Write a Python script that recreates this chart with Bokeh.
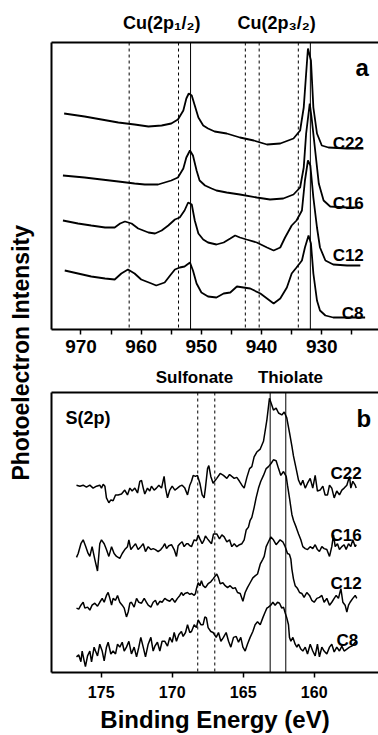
from bokeh.plotting import figure
from bokeh.models import Range1d, Span, Label, LinearAxis, FixedTicker, Div
from bokeh.layouts import row, column
from bokeh.embed import file_html
from bokeh.resources import INLINE

FONT = "Liberation Sans"

# ---------------- Panel a : Cu(2p) spectra (binding energy eV, intensity a.u.) ----------------
cu_c22 = [(972.8, 216), (969.4, 213), (966.6, 210), (963.8, 207), (961.1, 205), (958.8, 203),
          (956.6, 204), (955.0, 206), (953.9, 210), (953.0, 219), (952.5, 231), (952.1, 236),
          (951.6, 234), (951.1, 224), (950.5, 212), (949.7, 204), (948.9, 201), (947.8, 198),
          (945.8, 196), (943.6, 192), (941.3, 189), (939.1, 185), (936.9, 186), (934.7, 191),
          (933.6, 199), (933.0, 222), (932.6, 256), (932.3, 281), (931.8, 269), (931.4, 222),
          (930.8, 196), (930.0, 184), (928.9, 182), (925.8, 181), (923.1, 181)]
cu_c16 = [(973.0, 154), (969.4, 152), (966.6, 150), (963.8, 148), (961.1, 146), (959.4, 145),
          (957.2, 145), (955.0, 149), (953.9, 152), (953.0, 161), (952.5, 172), (951.9, 179),
          (951.4, 174), (950.8, 159), (950.3, 149), (949.4, 144), (948.3, 141), (947.5, 139),
          (945.8, 137), (943.6, 135), (940.8, 132), (938.6, 130), (936.4, 131), (934.7, 135),
          (933.6, 142), (933.0, 162), (932.6, 196), (932.0, 226), (931.7, 212), (931.1, 179),
          (930.5, 146), (929.7, 129), (928.6, 123), (925.8, 122), (923.6, 122)]
cu_c12 = [(973.0, 109), (970.5, 106), (968.3, 104), (966.0, 102), (964.4, 102), (963.5, 106),
          (962.7, 108), (961.6, 106), (960.5, 101), (958.8, 97), (957.7, 96), (956.6, 99),
          (955.5, 104), (954.4, 110), (953.6, 112), (952.8, 119), (952.2, 127), (951.6, 125),
          (951.1, 109), (950.5, 96), (949.7, 90), (948.9, 87), (947.5, 85), (946.3, 87),
          (945.2, 91), (944.4, 94), (943.6, 92), (942.5, 90), (940.8, 87), (939.1, 82),
          (938.0, 79), (936.9, 82), (936.1, 92), (935.0, 104), (934.2, 109), (933.3, 119),
          (932.8, 149), (932.3, 169), (931.9, 164), (931.4, 132), (930.8, 102), (930.3, 82),
          (929.4, 69), (928.1, 65), (925.8, 64), (923.6, 64)]
cu_c8 = [(972.7, 59), (970.5, 56), (968.3, 53), (966.0, 51), (964.4, 50), (963.3, 56),
         (962.2, 60), (961.1, 56), (960.0, 50), (958.3, 46), (957.5, 44), (956.1, 47),
         (955.2, 54), (954.4, 60), (953.6, 62), (952.8, 63), (951.9, 67), (951.4, 59),
         (950.8, 46), (950.0, 37), (948.9, 33), (947.5, 32), (946.3, 36), (945.2, 37),
         (944.1, 43), (943.0, 42), (941.9, 41), (940.2, 36), (939.1, 31), (938.0, 26),
         (936.9, 31), (935.8, 42), (935.0, 56), (934.2, 62), (933.3, 69), (932.8, 82),
         (932.2, 94), (931.8, 86), (931.4, 56), (930.8, 29), (930.3, 19), (929.4, 14),
         (928.1, 12), (925.8, 12), (922.8, 12)]

cu_dashed = [962.0, 953.8, 942.7, 940.4, 933.9]
cu_solid = [951.8, 931.9]
cu_ticks = [970, 960, 950, 940, 930]
cu_minor = [965, 955, 945, 935, 925]
cu_headers = {956.6: "Cu(2p\u2081/\u2082)", 937.5: "Cu(2p\u2083/\u2082)"}

# ---------------- Panel b : S(2p) spectra ----------------
s_c22 = [(176.74, 192), (176.50, 191), (176.27, 192), (176.04, 190), (175.80, 192), (175.57, 189),
         (175.33, 191), (175.10, 192), (174.98, 189), (174.86, 193), (174.74, 191), (174.63, 179),
         (174.46, 174), (174.32, 177), (174.16, 176), (173.99, 182), (173.81, 182), (173.57, 183),
         (173.34, 187), (173.15, 182), (172.98, 189), (172.82, 186), (172.63, 189), (172.44, 184),
         (172.28, 196), (172.16, 197), (172.04, 189), (171.93, 183), (171.74, 189), (171.58, 186),
         (171.46, 191), (171.27, 187), (171.11, 189), (170.94, 192), (170.75, 189), (170.57, 201),
         (170.47, 189), (170.33, 179), (170.17, 187), (170.00, 191), (169.81, 187), (169.63, 189),
         (169.46, 191), (169.30, 192), (169.11, 189), (168.92, 182), (168.76, 192), (168.64, 196),
         (168.52, 202), (168.36, 201), (168.22, 202), (168.05, 194), (167.89, 182), (167.75, 179),
         (167.66, 189), (167.51, 209), (167.42, 212), (167.28, 201), (167.12, 194), (166.86, 199),
         (166.62, 204), (166.39, 202), (166.15, 199), (165.96, 203), (165.80, 201), (165.63, 199),
         (165.45, 200), (165.26, 196), (165.09, 192), (164.93, 189), (164.74, 200), (164.55, 209),
         (164.39, 211), (164.23, 221), (164.04, 226), (163.80, 229), (163.57, 237), (163.33, 259),
         (163.15, 281), (162.98, 274), (162.87, 269), (162.68, 271), (162.51, 266), (162.28, 264),
         (162.11, 267), (161.93, 261), (161.74, 246), (161.57, 232), (161.46, 222), (161.27, 209),
         (161.10, 197), (160.94, 192), (160.80, 197), (160.63, 189), (160.47, 194), (160.28, 199),
         (160.10, 189), (159.93, 202), (159.77, 186), (159.58, 187), (159.39, 191), (159.23, 182),
         (159.06, 182), (158.92, 192), (158.76, 189), (158.59, 179), (158.41, 186), (158.22, 182),
         (158.05, 187), (157.89, 189), (157.70, 192), (157.51, 201), (157.42, 189), (157.28, 196),
         (157.11, 192), (157.04, 189)]
s_c16 = [(176.74, 118), (176.62, 122), (176.43, 132), (176.27, 136), (176.11, 130), (175.92, 122),
         (175.80, 119), (175.64, 129), (175.45, 116), (175.26, 104), (175.10, 132), (174.98, 136),
         (174.79, 132), (174.63, 126), (174.46, 119), (174.27, 129), (174.09, 122), (173.92, 119),
         (173.69, 117), (173.52, 122), (173.34, 126), (173.15, 129), (173.05, 136), (172.91, 126),
         (172.75, 129), (172.58, 132), (172.40, 126), (172.21, 129), (172.04, 132), (171.88, 124),
         (171.69, 129), (171.50, 126), (171.34, 127), (171.18, 126), (170.99, 124), (170.80, 126),
         (170.64, 129), (170.52, 132), (170.40, 127), (170.24, 130), (170.05, 131), (169.86, 126),
         (169.70, 119), (169.58, 130), (169.46, 132), (169.30, 134), (169.16, 129), (168.99, 132),
         (168.88, 132), (168.76, 130), (168.64, 129), (168.45, 136), (168.29, 135), (168.17, 141),
         (168.05, 137), (167.89, 132), (167.75, 136), (167.66, 140), (167.51, 137), (167.35, 134),
         (167.23, 132), (167.09, 142), (166.86, 142), (166.67, 137), (166.50, 141), (166.34, 139),
         (166.15, 134), (165.96, 136), (165.80, 129), (165.63, 132), (165.45, 129), (165.26, 131),
         (165.09, 132), (164.93, 136), (164.79, 146), (164.63, 149), (164.51, 156), (164.39, 159),
         (164.23, 169), (164.09, 179), (163.92, 189), (163.76, 196), (163.57, 202), (163.38, 209),
         (163.22, 211), (163.05, 214), (162.87, 218), (162.68, 217), (162.51, 209), (162.35, 202),
         (162.16, 206), (161.97, 201), (161.88, 192), (161.74, 179), (161.57, 162), (161.46, 156),
         (161.27, 149), (161.10, 142), (160.94, 136), (160.80, 129), (160.63, 127), (160.47, 126),
         (160.28, 129), (160.10, 127), (159.93, 131), (159.77, 126), (159.63, 124), (159.46, 129),
         (159.30, 127), (159.11, 126), (158.92, 119), (158.76, 129), (158.64, 141), (158.52, 129),
         (158.36, 132), (158.22, 126), (158.05, 129), (157.89, 131), (157.75, 126), (157.58, 132),
         (157.42, 129), (157.28, 136), (157.11, 129), (157.04, 131)]
s_c12 = [(176.74, 66), (176.58, 65), (176.43, 69), (176.27, 72), (176.15, 66), (175.96, 67),
         (175.80, 64), (175.64, 69), (175.45, 71), (175.26, 68), (175.10, 72), (174.93, 76),
         (174.79, 72), (174.63, 79), (174.51, 82), (174.39, 76), (174.27, 69), (174.16, 76),
         (173.99, 74), (173.85, 79), (173.69, 72), (173.52, 69), (173.38, 66), (173.22, 57),
         (173.10, 62), (172.98, 71), (172.87, 72), (172.68, 67), (172.51, 76), (172.35, 72),
         (172.16, 71), (171.97, 76), (171.81, 72), (171.69, 69), (171.50, 67), (171.34, 72),
         (171.18, 74), (171.04, 69), (170.87, 73), (170.71, 72), (170.52, 76), (170.33, 74),
         (170.17, 73), (170.00, 76), (169.81, 72), (169.63, 76), (169.46, 79), (169.35, 82),
         (169.23, 79), (169.11, 81), (168.92, 82), (168.76, 80), (168.64, 81), (168.45, 79),
         (168.36, 81), (168.29, 86), (168.17, 92), (168.05, 89), (167.94, 94), (167.82, 89),
         (167.66, 87), (167.47, 91), (167.28, 93), (167.12, 96), (166.86, 101), (166.74, 97),
         (166.62, 91), (166.43, 92), (166.27, 89), (166.10, 87), (165.92, 89), (165.73, 86),
         (165.56, 87), (165.40, 82), (165.21, 81), (165.02, 73), (164.86, 82), (164.70, 87),
         (164.51, 92), (164.32, 97), (164.16, 99), (163.99, 101), (163.80, 111), (163.62, 116),
         (163.52, 119), (163.38, 129), (163.22, 134), (163.05, 139), (162.87, 136), (162.68, 131),
         (162.51, 134), (162.40, 136), (162.21, 134), (162.04, 129), (161.88, 122), (161.74, 121),
         (161.64, 116), (161.57, 106), (161.46, 96), (161.34, 89), (161.17, 86), (161.03, 82),
         (160.87, 81), (160.71, 77), (160.52, 82), (160.33, 79), (160.17, 74), (160.00, 72),
         (159.81, 76), (159.63, 77), (159.46, 79), (159.30, 72), (159.11, 76), (158.92, 69),
         (158.76, 72), (158.59, 76), (158.45, 79), (158.29, 76), (158.12, 86), (157.98, 72),
         (157.82, 69), (157.70, 62), (157.58, 69), (157.47, 72), (157.28, 76), (157.11, 79),
         (157.00, 76)]
s_c8 = [(176.74, 16), (176.58, 18), (176.43, 11), (176.34, 22), (176.20, 12), (176.11, 6),
        (175.96, 17), (175.80, 22), (175.68, 11), (175.50, 26), (175.40, 22), (175.26, 17),
        (175.10, 29), (174.93, 22), (174.79, 12), (174.63, 26), (174.51, 31), (174.32, 19),
        (174.16, 22), (173.99, 19), (173.85, 29), (173.69, 26), (173.52, 31), (173.38, 22),
        (173.22, 26), (173.05, 32), (172.87, 19), (172.68, 26), (172.51, 16), (172.35, 26),
        (172.21, 36), (172.04, 26), (171.88, 16), (171.69, 29), (171.50, 36), (171.34, 22),
        (171.22, 27), (171.04, 31), (170.87, 22), (170.71, 32), (170.52, 32), (170.33, 27),
        (170.17, 36), (170.00, 31), (169.86, 41), (169.70, 32), (169.53, 39), (169.35, 42),
        (169.23, 37), (169.06, 41), (168.92, 49), (168.76, 41), (168.64, 42), (168.45, 49),
        (168.29, 46), (168.17, 54), (167.98, 49), (167.82, 49), (167.70, 57), (167.59, 56),
        (167.47, 46), (167.28, 42), (167.12, 41), (166.90, 36), (166.74, 41), (166.57, 32),
        (166.39, 36), (166.20, 41), (166.03, 32), (165.87, 26), (165.68, 36), (165.49, 37),
        (165.33, 31), (165.17, 36), (165.02, 26), (164.86, 22), (164.70, 29), (164.51, 36),
        (164.32, 42), (164.16, 49), (163.99, 52), (163.80, 49), (163.62, 56), (163.45, 62),
        (163.33, 66), (163.22, 67), (163.05, 69), (162.91, 72), (162.75, 69), (162.58, 72),
        (162.44, 71), (162.28, 66), (162.16, 67), (162.04, 61), (161.93, 56), (161.81, 49),
        (161.74, 36), (161.64, 32), (161.50, 36), (161.34, 29), (161.22, 26), (161.10, 29),
        (160.94, 24), (160.80, 22), (160.63, 26), (160.47, 19), (160.28, 29), (160.10, 22),
        (159.93, 17), (159.77, 29), (159.63, 16), (159.46, 26), (159.30, 22), (159.11, 19),
        (158.92, 26), (158.76, 29), (158.59, 21), (158.41, 26), (158.22, 22), (158.05, 27),
        (157.89, 22), (157.70, 24), (157.51, 26), (157.35, 27), (157.11, 31), (157.00, 32)]

s_dashed = [168.2, 167.0]
s_solid = [163.1, 162.0]
s_ticks = [175, 170, 165, 160]
s_headers = {168.43: "Sulfonate", 161.67: "Thiolate"}

sample_names = ["C22", "C16", "C12", "C8"]
cu_series = [cu_c22, cu_c16, cu_c12, cu_c8]
s_series = [s_c22, s_c16, s_c12, s_c8]


def style_frame(p, ticks, minor, label_size, standoff, headers, header_size, header_standoff):
    p.grid.visible = False
    p.outline_line_color = None
    p.background_fill_color = "white"
    p.border_fill_color = "white"
    ax = p.below[0]
    ax.ticker = FixedTicker(ticks=ticks, minor_ticks=minor)
    ax.axis_line_width = 2
    ax.axis_line_color = "black"
    ax.major_tick_in = 0
    ax.major_tick_out = 5
    ax.minor_tick_in = 0
    ax.minor_tick_out = 5
    ax.major_tick_line_width = 1.5
    ax.minor_tick_line_width = 1.5
    ax.major_label_text_font = FONT
    ax.major_label_text_font_style = "bold"
    ax.major_label_text_font_size = label_size
    ax.major_label_text_color = "black"
    ax.major_label_standoff = standoff
    ay = p.left[0]
    ay.ticker = FixedTicker(ticks=[])
    ay.axis_line_width = 2
    ay.axis_line_color = "black"
    ay.major_tick_line_color = None
    ay.minor_tick_line_color = None
    ay.major_tick_in = 0
    ay.major_tick_out = 0
    ay.minor_tick_in = 0
    ay.minor_tick_out = 0
    ay.major_label_standoff = 0
    ay.major_label_text_font_size = "0px"
    top = LinearAxis(ticker=FixedTicker(ticks=list(headers.keys())),
                     major_label_overrides=headers,
                     axis_line_width=2, axis_line_color="black",
                     major_tick_line_color=None, minor_tick_line_color=None,
                     major_tick_in=0, major_tick_out=0, minor_tick_in=0, minor_tick_out=0,
                     major_label_standoff=header_standoff,
                     major_label_text_font=FONT, major_label_text_font_style="bold",
                     major_label_text_font_size=header_size, major_label_text_color="black")
    p.add_layout(top, "above")
    return ax


def add_label(p, x, y, text, size, align="left"):
    p.add_layout(Label(x=x, y=y, text=text, text_font=FONT, text_font_style="bold",
                       text_font_size=size, text_align=align, text_baseline="alphabetic",
                       text_color="black"))


# ---------------- figure a ----------------
p1 = figure(width=342, height=362, x_range=Range1d(974.9, 920.58), y_range=Range1d(0, 287),
            output_backend="svg", toolbar_location=None,
            min_border_left=15, min_border_right=0, min_border_top=42, min_border_bottom=33)
style_frame(p1, cu_ticks, cu_minor, "19px", 5, cu_headers, "18px", 10)

for e in cu_dashed:
    p1.add_layout(Span(location=e, dimension="height", line_color="black", line_width=1,
                       line_dash="3 3", level="underlay"))
for e in cu_solid:
    p1.add_layout(Span(location=e, dimension="height", line_color="black", line_width=1,
                       level="underlay"))

for series in cu_series:
    be, inten = zip(*series)
    p1.line(list(be), list(inten), line_color="black", line_width=1.8)

add_label(p1, 924.4, 262, "a", "24px")
cu_label_x = [928.2, 928.2, 928.2, 926.7]
cu_label_y = [186, 126, 74, 16]
for name, lx, ly in zip(sample_names, cu_label_x, cu_label_y):
    add_label(p1, lx, ly, name, "17px")

# ---------------- figure b ----------------
p2 = figure(width=342, height=373, x_range=Range1d(178.5, 155.47), y_range=Range1d(0, 287),
            output_backend="svg", toolbar_location=None,
            min_border_left=15, min_border_right=0, min_border_top=30, min_border_bottom=56)
bx = style_frame(p2, s_ticks, [], "16px", 8, s_headers, "17px", 6)
bx.axis_label = "Binding Energy (eV)"
bx.axis_label_text_font = FONT
bx.axis_label_text_font_style = "bold"
bx.axis_label_text_font_size = "24px"
bx.axis_label_text_color = "black"
bx.axis_label_standoff = 5

for e in s_dashed:
    p2.add_layout(Span(location=e, dimension="height", line_color="black", line_width=1,
                       line_dash="3 3", level="underlay"))
for e in s_solid:
    p2.add_layout(Span(location=e, dimension="height", line_color="black", line_width=1,
                       level="underlay"))

for series in s_series:
    be, inten = zip(*series)
    p2.line(list(be), list(inten), line_color="black", line_width=1.5)

add_label(p2, 177.51, 261, "S(2p)", "18px")
add_label(p2, 157.02, 260, "b", "24px")
s_label_x = [158.85, 158.85, 158.85, 158.43]
s_label_y = [204, 140, 91, 33]
for name, lx, ly in zip(sample_names, s_label_x, s_label_y):
    add_label(p2, lx, ly, name, "17px")

ylabel = Div(
    text=('<div style="width:36px;height:735px;display:flex;align-items:center;'
          'justify-content:center;box-sizing:border-box;padding-left:6px;padding-bottom:30px;">'
          '<span style="writing-mode:vertical-rl;transform:rotate(180deg);'
          'font-family:\'Liberation Sans\',Arial,sans-serif;font-weight:bold;font-size:23px;'
          'white-space:nowrap;color:#000;">Photoelectron Intensity</span></div>'),
    width=36, height=735, margin=(0, 0, 0, 0))

layout = row(ylabel, column(p1, p2))

open("out.html", "w").write(file_html(layout, INLINE))
